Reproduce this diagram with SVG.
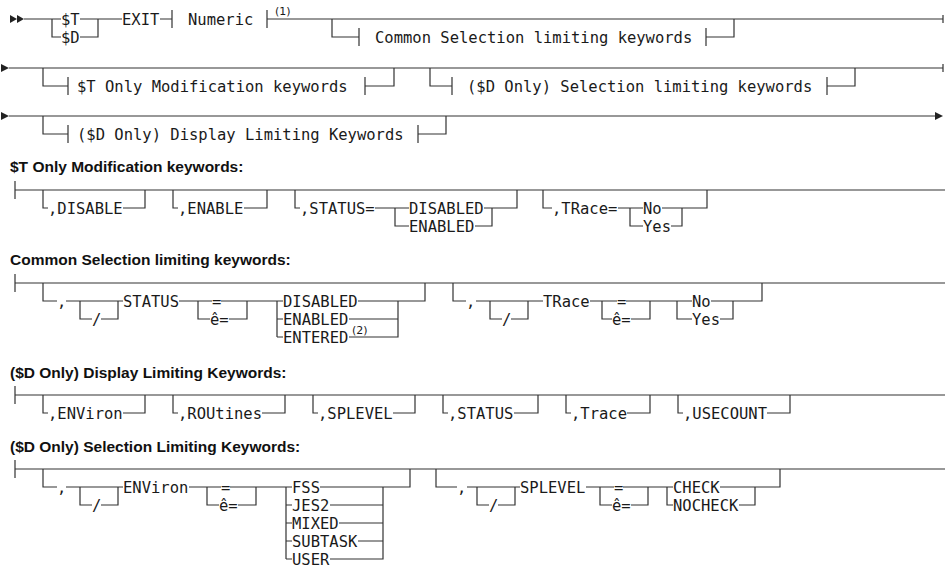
<svg xmlns="http://www.w3.org/2000/svg" width="945" height="571" viewBox="0 0 945 571">
<style>
.t{font-family:"DejaVu Sans Mono","Liberation Mono",monospace;font-size:15.5px;fill:#1a1a1a}
.s{font-family:"DejaVu Sans","Liberation Sans",sans-serif;font-size:11px;fill:#1a1a1a}
.h{font-family:"Liberation Sans",Arial,sans-serif;font-weight:bold;font-size:15.5px;fill:#111}
.l{stroke:#333;stroke-width:1.2;fill:none}
.a{fill:#222}
</style>
<rect width="945" height="571" fill="#fff"/>
<g id="connectors">
<path class="l" d="M24,19 H61 M52,19 V37 H61 M80,19 H122 M80,37 H98 V19 M160,19 H172 M172,10 V28 M267,10 V28 M267,19 H943 M332,19 V37 H359 M359,28 V46 M706,28 V46 M706,37 H734 V19"/>
<path class="l" stroke-width="2" d="M943,15 V23 M943,64 V72"/>
<path class="l" d="M9,68 H943 M43,68 V86 H68 M68,77 V95 M365,77 V95 M365,86 H394 V68 M430,68 V86 H452 M452,77 V95 M827,77 V95 M827,86 H855 V68"/>
<path class="l" d="M9,116 H936 M43,116 V134 H68 M68,125 V143 M418,125 V143 M418,134 H446 V116"/>
<path class="l" d="M15,181 V199 M15,190 H945 M43,190 V208 H48 M123,208 H145 V190 M173,190 V208 H178 M244,208 H267 V190 M295,190 V208 H300 M375,208 H409 M395,208 V226 H409 M484,208 H517 V190 M475,226 H492 V208 M543,190 V208 H552 M618,208 H643 M630,208 V226 H643 M662,208 H707 V190 M671,226 H682 V208"/>
<path class="l" d="M15,274 V292 M15,283 H945 M43,283 V301 H57 M66,301 H123 M80,301 V319 H92 M101,319 H118 V301 M179,301 H212 M198,301 V319 H210 M221,301 H283 M229,319 H247 V301 M277,301 V337 M277,319 H283 M277,337 H283 M358,301 H425 V283 M349,319 H398 M349,337 H398 V301 M453,283 V301 H466 M476,301 H543 M490,301 V319 H502 M511,319 H528 V301 M590,301 H617 M602,301 V319 H612 M626,301 H692 M631,319 H650 V301 M677,301 V319 H692 M711,301 H762 V283 M720,319 H733 V301"/>
<path class="l" d="M15,386 V404 M15,395 H945 M43,395 V413 H48 M123,413 H145 V395 M173,395 V413 H178 M262,413 H285 V395 M313,395 V413 H318 M393,413 H415 V395 M443,395 V413 H448 M514,413 H538 V395 M566,395 V413 H571 M627,413 H650 V395 M678,395 V413 H683 M767,413 H790 V395"/>
<path class="l" d="M15,460 V478 M15,469 H945 M43,469 V487 H57 M66,487 H123 M80,487 V505 H92 M101,505 H118 V487 M189,487 H221 M207,487 V505 H219 M230,487 H292 M238,505 H256 V487 M286,487 V559 M286,505 H292 M286,523 H292 M286,541 H292 M286,559 H292 M320,487 H410 V469 M330,505 H383 M339,523 H383 M358,541 H383 M330,559 H383 V487 M436,469 V487 H457 M467,487 H520 M477,487 V505 H489 M498,505 H515 V487 M586,487 H614 M600,487 V505 H612 M623,487 H673 M631,505 H648 V487 M667,487 V505 H673 M720,487 H780 V469 M739,505 H755 V487"/>
<polygon class="a" points="10,15 10,23 17,19"/>
<polygon class="a" points="17,15 17,23 24,19"/>
<polygon class="a" points="1,64 1,72 9,68"/>
<polygon class="a" points="1,112 1,120 9,116"/>
<polygon class="a" points="935,112 935,120 943,116"/>
</g>
<g id="main-syntax">
<text class="t" x="61" y="24.5">$T</text>
<text class="t" x="61" y="42.5">$D</text>
<text class="t" x="122" y="24.5">EXIT</text>
<text class="t" x="188" y="24.5">Numeric</text>
<text class="s" x="275" y="15">(1)</text>
<text class="t" x="375" y="42.5">Common Selection limiting keywords</text>
<text class="t" x="77" y="91.5">$T Only Modification keywords</text>
<text class="t" x="467" y="91.5">($D Only) Selection limiting keywords</text>
<text class="t" x="77" y="139.5">($D Only) Display Limiting Keywords</text>
</g>
<g id="t-only-modification">
<text class="h" x="10" y="172">$T Only Modification keywords:</text>
<text class="t" x="48" y="213.5">,DISABLE</text>
<text class="t" x="178" y="213.5">,ENABLE</text>
<text class="t" x="300" y="213.5">,STATUS=</text>
<text class="t" x="409" y="213.5">DISABLED</text>
<text class="t" x="409" y="231.5">ENABLED</text>
<text class="t" x="552" y="213.5">,TRace=</text>
<text class="t" x="643" y="213.5">No</text>
<text class="t" x="643" y="231.5">Yes</text>
</g>
<g id="common-selection">
<text class="h" x="10" y="265">Common Selection limiting keywords:</text>
<text class="t" x="57" y="306.5">,</text>
<text class="t" x="92" y="324.5">/</text>
<text class="t" x="123" y="306.5">STATUS</text>
<text class="t" x="212" y="306.5">=</text>
<text class="t" x="210" y="324.5">ê=</text>
<text class="t" x="283" y="306.5">DISABLED</text>
<text class="t" x="283" y="324.5">ENABLED</text>
<text class="t" x="283" y="342.5">ENTERED</text>
<text class="s" x="352" y="334">(2)</text>
<text class="t" x="466" y="306.5">,</text>
<text class="t" x="502" y="324.5">/</text>
<text class="t" x="543" y="306.5">TRace</text>
<text class="t" x="617" y="306.5">=</text>
<text class="t" x="612" y="324.5">ê=</text>
<text class="t" x="692" y="306.5">No</text>
<text class="t" x="692" y="324.5">Yes</text>
</g>
<g id="display-limiting">
<text class="h" x="10" y="378">($D Only) Display Limiting Keywords:</text>
<text class="t" x="48" y="418.5">,ENViron</text>
<text class="t" x="178" y="418.5">,ROUtines</text>
<text class="t" x="318" y="418.5">,SPLEVEL</text>
<text class="t" x="448" y="418.5">,STATUS</text>
<text class="t" x="571" y="418.5">,Trace</text>
<text class="t" x="683" y="418.5">,USECOUNT</text>
</g>
<g id="selection-limiting">
<text class="h" x="10" y="452">($D Only) Selection Limiting Keywords:</text>
<text class="t" x="57" y="492.5">,</text>
<text class="t" x="92" y="510.5">/</text>
<text class="t" x="123" y="492.5">ENViron</text>
<text class="t" x="221" y="492.5">=</text>
<text class="t" x="219" y="510.5">ê=</text>
<text class="t" x="292" y="492.5">FSS</text>
<text class="t" x="292" y="510.5">JES2</text>
<text class="t" x="292" y="528.5">MIXED</text>
<text class="t" x="292" y="546.5">SUBTASK</text>
<text class="t" x="292" y="564.5">USER</text>
<text class="t" x="457" y="492.5">,</text>
<text class="t" x="489" y="510.5">/</text>
<text class="t" x="520" y="492.5">SPLEVEL</text>
<text class="t" x="614" y="492.5">=</text>
<text class="t" x="612" y="510.5">ê=</text>
<text class="t" x="673" y="492.5">CHECK</text>
<text class="t" x="673" y="510.5">NOCHECK</text>
</g>
</svg>
